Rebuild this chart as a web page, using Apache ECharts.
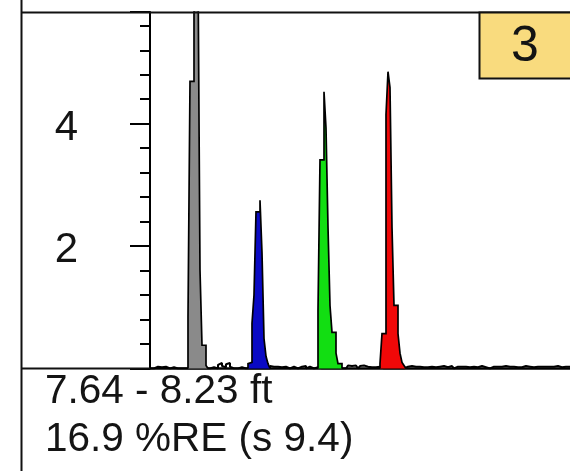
<!DOCTYPE html>
<html>
<head>
<meta charset="utf-8">
<script src="https://cdn.jsdelivr.net/npm/echarts@6/dist/echarts.min.js"></script>
<style>
  html, body { margin: 0; padding: 0; background: #ffffff; }
  #chart { width: 570px; height: 471px; }
</style>
</head>
<body>
<div id="chart"></div>
<script>
// ---- data -------------------------------------------------------------
// Histogram bins (1 unit per bin); each peak lists counts from its first bin.
const BIN_COUNT = 215;
const Y_MAX = 5.825;
const majorTickStep = 2;
const minorTickStep = 0.4;

const grayStart = 19;
const grayCounts = [0.84, 4.69, 4.69, 6.4, 7.1, 6.6, 1.61, 0.38, 0.38, 0.05];

const blueStart = 49;
const blueCounts = [0.08, 0.1, 0.74, 1.2, 2.56, 2.56, 2.75, 1.89, 0.49, 0.2, 0.08];

const greenStart = 84;
const greenCounts = [0.95, 3.41, 3.41, 4.52, 3.93, 2.31, 1.03, 0.59, 0.59, 0.25, 0.08, 0.08];

const redStart = 115;
const redCounts = [0.08, 0.57, 0.57, 4.15, 4.85, 4.59, 2.31, 1.03, 1.03, 0.57, 0.25, 0.1, 0.05];

// low background counts along the baseline, bin 0 onward
const baselineCounts = [
  0, 0, 0.03, 0.03, 0, 0.02, 0.03, 0.03, 0.02, 0, 0.03, 0.02, 0, 0, 0.02, 0, 0, 0,
  0, 0, 0, 0, 0, 0, 0, 0, 0, 0, 0,
  0, 0, 0.02, 0, 0,
  0.06, 0.09, 0.04, 0.02, 0.07, 0.09, 0.03, 0,
  0, 0, 0, 0.02, 0, 0, 0,
  0, 0, 0, 0, 0, 0, 0, 0, 0, 0, 0,
  0.04, 0.03, 0.02, 0.03, 0, 0.02, 0.04, 0.03, 0, 0, 0.02, 0.03, 0.02, 0, 0.02, 0.03, 0.05, 0.04, 0, 0.03, 0.02, 0, 0, 0.02,
  0, 0, 0, 0, 0, 0, 0, 0, 0, 0, 0, 0,
  0.02, 0, 0.03, 0.05, 0.04, 0.02, 0.05, 0.03, 0, 0.04, 0.05, 0.02, 0.03, 0, 0.02, 0.03, 0.02, 0, 0.03,
  0, 0, 0, 0, 0, 0, 0, 0, 0, 0, 0, 0, 0,
  0.03, 0.02, 0.04, 0.02, 0.03, 0, 0.03, 0.04, 0.02, 0.03, 0.02, 0.04, 0.03, 0, 0.02, 0.03,
  0.03, 0.02, 0.04, 0.03, 0.02, 0.03, 0.04, 0.02, 0, 0.03, 0.04, 0.03, 0.02, 0.03, 0.03, 0.02,
  0.04, 0.03, 0.02, 0.02, 0.03, 0.04, 0.03, 0.02, 0.03, 0, 0.02, 0.03, 0.04, 0.03, 0.02, 0.03,
  0.02, 0.04, 0.03, 0.03, 0.02, 0.03, 0.04, 0.02, 0.03, 0.02, 0.03, 0.04, 0.02, 0.03, 0.03, 0.02,
  0.04, 0.03, 0.02, 0.03, 0.02, 0.03, 0.04, 0.03, 0.02, 0.03, 0.02, 0.04, 0.03, 0.02, 0.03, 0.03,
  0.02, 0.03, 0.04, 0.02, 0.03, 0.02, 0.03
];

const panelNumber = '3';
const rangeText = '7.64 - 8.23 ft';
const errorText = '16.9 %RE (s 9.4)';

// ---- helpers ----------------------------------------------------------
// Turn bin counts into step-line vertices: [left edge, count] per bin,
// closed down to zero on both sides.
function stepPoints(start, counts) {
  const pts = [[start, 0]];
  counts.forEach((c, k) => pts.push([start + k, c]));
  pts.push([start + counts.length, 0]);
  return pts;
}

function peakSeries(start, counts, color) {
  return {
    type: 'line',
    step: 'end',
    symbol: 'none',
    clip: true,
    data: stepPoints(start, counts),
    lineStyle: { color: '#000000', width: 1.7, join: 'miter' },
    areaStyle: { color: color, opacity: 1 },
    z: 3
  };
}

const FONT = '"Liberation Sans", Arial, sans-serif';
const INK = '#141414';

const chart = echarts.init(document.getElementById('chart'), null, { renderer: 'canvas' });

chart.setOption({
  animation: false,
  backgroundColor: '#ffffff',
  grid: {
    left: 150, right: -10, top: 12, bottom: 102.5,
    containLabel: false,
    outerBoundsMode: 'none'
  },
  xAxis: {
    type: 'value',
    min: 0,
    max: BIN_COUNT,
    axisLine: { show: true, lineStyle: { color: '#000000', width: 2.5 } },
    axisTick: { show: false },
    axisLabel: { show: false },
    splitLine: { show: false }
  },
  yAxis: [
    {
      type: 'value',
      min: 0,
      max: Y_MAX,
      interval: majorTickStep,
      axisLine: { show: true, onZero: false, lineStyle: { color: '#000000', width: 2 } },
      axisTick: { show: true, length: 20, lineStyle: { color: '#000000', width: 2 } },
      axisLabel: {
        show: true,
        margin: 72,
        fontSize: 42,
        fontFamily: FONT,
        color: INK,
        verticalAlign: 'top',
        lineHeight: 9,
        formatter: v => (v === 2 || v === 4) ? String(v) : ''
      },
      splitLine: { show: false }
    },
    {
      type: 'value',
      position: 'left',
      min: 0,
      max: Y_MAX,
      interval: minorTickStep,
      axisLine: { show: false },
      axisTick: { show: true, length: 10, lineStyle: { color: '#000000', width: 2 } },
      axisLabel: { show: false },
      splitLine: { show: false }
    }
  ],
  series: [
    {
      type: 'line',
      step: 'end',
      symbol: 'none',
      data: baselineCounts.map((c, i) => [i, c]),
      lineStyle: { color: '#000000', width: 2 },
      z: 2
    },
    peakSeries(grayStart, grayCounts, '#8a8a8a'),
    peakSeries(blueStart, blueCounts, '#0a0ac4'),
    peakSeries(greenStart, greenCounts, '#12de12'),
    peakSeries(redStart, redCounts, '#f00808')
  ],
  graphic: [
    { type: 'line', z: 10, shape: { x1: 21.5, y1: 0, x2: 21.5, y2: 471 },
      style: { stroke: '#111111', lineWidth: 2 } },
    { type: 'line', z: 10, shape: { x1: 21, y1: 12.5, x2: 570, y2: 12.5 },
      style: { stroke: '#111111', lineWidth: 2 } },
    { type: 'line', z: 10, shape: { x1: 21, y1: 368.5, x2: 150, y2: 368.5 },
      style: { stroke: '#111111', lineWidth: 2 } },
    { type: 'rect', z: 11, shape: { x: 479.5, y: 12.5, width: 100, height: 66 },
      style: { fill: '#f9db7e', stroke: '#111111', lineWidth: 2 } },
    { type: 'text', z: 12, x: 525, y: 47,
      style: { text: panelNumber, font: '50px ' + FONT, fill: INK, align: 'center', verticalAlign: 'middle' } },
    { type: 'text', z: 12, x: 45, y: 392,
      style: { text: rangeText, font: '40.5px ' + FONT, fill: INK, align: 'left', verticalAlign: 'middle' } },
    { type: 'text', z: 12, x: 45, y: 440,
      style: { text: errorText, font: '40.5px ' + FONT, fill: INK, align: 'left', verticalAlign: 'middle' } }
  ]
});
</script>
</body>
</html>
